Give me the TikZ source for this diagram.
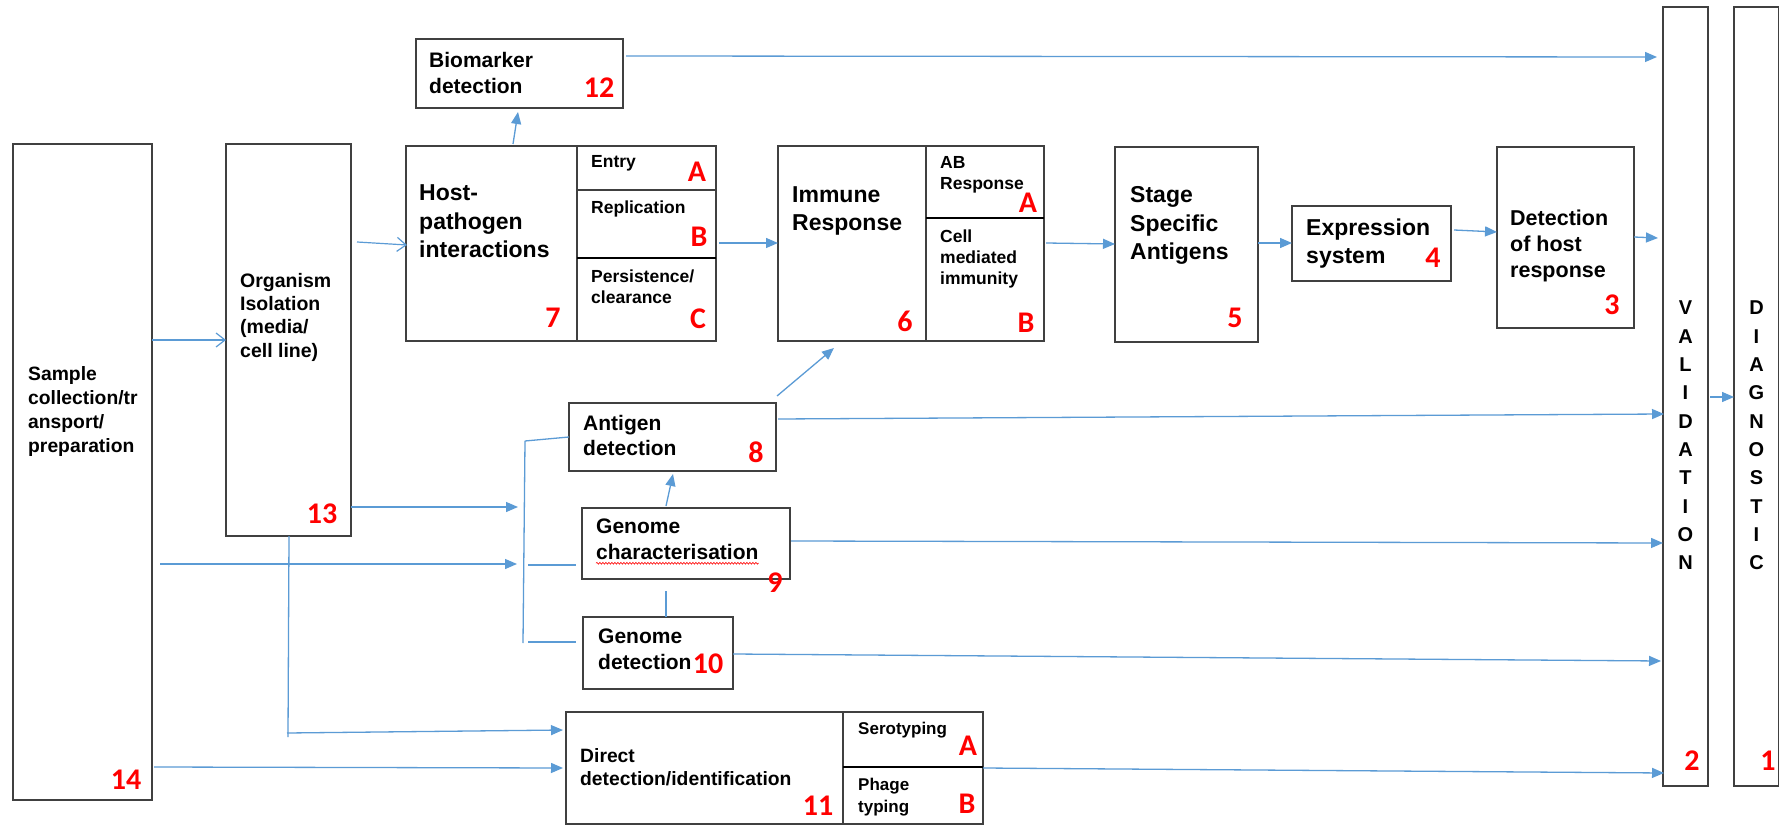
\documentclass[tikz,border=0pt]{standalone}
\usepackage{fontspec}
\setmainfont{Liberation Sans}
\newfontfamily\numfont{Carlito}
\usetikzlibrary{arrows.meta,calc,decorations.pathmorphing}
\definecolor{arrowblue}{HTML}{5B9BD5}
\definecolor{boxgray}{HTML}{404040}
\newcommand{\myfs}[2]{\fontsize{#1}{#2}\selectfont\bfseries}
\begin{document}
\begin{tikzpicture}[x=1pt,y=-1pt,
  box/.style={draw=boxgray, line width=1.4pt, fill=white, anchor=north west, inner sep=0pt, outer sep=0pt},
  divider/.style={draw=boxgray, line width=1.4pt},
  thickdiv/.style={draw=black, line width=2.6pt},
  lbl/.style={anchor=north west, align=left, inner sep=0pt, text=black},
  num/.style={text=red, inner sep=0pt, anchor=center, font={\numfont\bfseries\fontsize{30}{30}\selectfont}},
  arr/.style={draw=arrowblue, line width=1.3pt, -{Triangle[length=12pt,width=10pt]}},
  oarr/.style={draw=arrowblue, line width=1.2pt, -{Straight Barb[length=9pt,width=14pt]}},
  conn/.style={draw=arrowblue, line width=1.3pt}
]
\fill[white] (0,0) rectangle (1780,826);
\useasboundingbox (0,0) rectangle (1780,826);

% boxes
\node[box, minimum width=139pt, minimum height=656pt] (s14) at (13,144) {};
\node[box, minimum width=125pt, minimum height=392pt] (org) at (226,144) {};
\node[box, minimum width=310pt, minimum height=195pt] (h7) at (406,146) {};
\node[box, minimum width=207pt, minimum height=69pt] (b12) at (416,39) {};
\node[box, minimum width=266pt, minimum height=195pt] (i6) at (778,146) {};
\node[box, minimum width=143pt, minimum height=195pt] (st5) at (1115,147) {};
\node[box, minimum width=159pt, minimum height=75pt] (e4) at (1292,206) {};
\node[box, minimum width=137pt, minimum height=181pt] (d3) at (1497,147) {};
\node[box, minimum width=45pt, minimum height=779pt] (v2) at (1663,7) {};
\node[box, minimum width=44.5pt, minimum height=779pt] (dg1) at (1734,7) {};
\node[box, minimum width=207pt, minimum height=68pt] (a8) at (569,403) {};
\node[box, minimum width=208pt, minimum height=71pt] (g9) at (582,508) {};
\node[box, minimum width=150pt, minimum height=72pt] (gd10) at (583,617) {};
\node[box, minimum width=417pt, minimum height=112pt] (dd11) at (566,712) {};

% dividers
\draw[divider] ($(h7.north west)+(171,0)$) -- ($(h7.south west)+(171,0)$);
\draw[divider] ($(h7.north west)+(171,44)$) -- ($(h7.north east)+(0,44)$);
\draw[thickdiv] ($(h7.north west)+(171,112)$) -- ($(h7.north east)+(0,112)$);
\draw[divider] ($(i6.north west)+(148,0)$) -- ($(i6.south west)+(148,0)$);
\draw[thickdiv] ($(i6.north west)+(148,72)$) -- ($(i6.north east)+(0,72)$);
\draw[divider] ($(dd11.north west)+(277,0)$) -- ($(dd11.south west)+(277,0)$);
\draw[thickdiv] ($(dd11.north west)+(277,55)$) -- ($(dd11.north east)+(0,55)$);

% texts
\node[lbl, font={\myfs{21}{26}}] (tb12) at (429,52) {Biomarker\\detection};
\node[lbl, font={\myfs{23}{28.5}}] (th7) at (419,184.5) {Host-\\pathogen\\interactions};
\node[lbl, font={\myfs{17.5}{21}}] (thA) at (591,155.5) {Entry};
\node[lbl, font={\myfs{17.5}{21}}] (thB) at (591,200.5) {Replication};
\node[lbl, font={\myfs{17.5}{21}}] (thC) at (591,269.5) {Persistence/\\clearance};
\node[lbl, font={\myfs{23}{28}}] (ti6) at (792,186.5) {Immune\\Response};
\node[lbl, font={\myfs{17.5}{21}}] (tiA) at (940,156.5) {AB\\Response};
\node[lbl, font={\myfs{17.5}{21}}] (tiB) at (940,229.5) {Cell\\mediated\\immunity};
\node[lbl, font={\myfs{23}{28.5}}] (tst5) at (1130,186.5) {Stage\\Specific\\Antigens};
\node[lbl, font={\myfs{23}{28}}] (te4) at (1306,218.5) {Expression\\system};
\node[lbl, font={\myfs{21.5}{26}}] (td3) at (1510,210) {Detection\\of host\\response};
\node[lbl, font={\myfs{19.5}{23.3}}] (to13) at (240,272.8) {Organism\\Isolation\\(media/\\cell line)};
\node[lbl, font={\myfs{19.3}{24}}] (ts14) at (28,366) {Sample\\collection/tr\\ansport/\\preparation};
\node[lbl, font={\myfs{21}{25}}] (ta8) at (583,415) {Antigen\\detection};
\node[lbl, font={\myfs{21}{26}}] (tg9) at (596,519) {Genome\\characterisation};
\node[lbl, font={\myfs{21}{26}}] (tgd10) at (598,629) {Genome\\detection};
\node[lbl, font={\myfs{19.3}{23}}] (tdd11) at (580,748) {Direct\\detection/identification};
\node[lbl, font={\myfs{17}{22}}] (tddA) at (858,722) {Serotyping};
\node[lbl, font={\myfs{17}{22}}] (tddB) at (858,778) {Phage\\typing};
\node[anchor=north, align=center, inner sep=0pt, font={\myfs{20}{28.3}}] (tv2) at (1685.5,301) {V\\A\\L\\I\\D\\A\\T\\I\\O\\N};
\node[anchor=north, align=center, inner sep=0pt, font={\myfs{20}{28.3}}] (tdg1) at (1756.5,301) {D\\I\\A\\G\\N\\O\\S\\T\\I\\C};

% spell-check squiggle
\draw[red, line width=0.6pt, decorate, decoration={snake, amplitude=0.9pt, segment length=3pt}]
  ($(tg9.south west)+(0,3)$) -- ($(tg9.south east)+(0,3)$);

% red numbers
\node[num] (n12) at (599,88) {12};
\node[num] (n7) at (553,318) {7};
\node[num] (n7A) at (697,172) {A};
\node[num] (n7B) at (699,237) {B};
\node[num] (n7C) at (698,319) {C};
\node[num] (n6) at (905,321) {6};
\node[num] (n6A) at (1028,203) {A};
\node[num] (n6B) at (1026,323) {B};
\node[num] (n5) at (1235,318) {5};
\node[num] (n4) at (1433,258) {4};
\node[num] (n3) at (1612,305) {3};
\node[num] (n13) at (322,514) {13};
\node[num] (n14) at (126,780) {14};
\node[num] (n8) at (756,452) {8};
\node[num] (n9) at (775,583) {9};
\node[num] (n10) at (708,664) {10};
\node[num] (n11) at (818,806) {11};
\node[num] (n11A) at (968,746) {A};
\node[num] (n11B) at (967,804) {B};
\node[num] (n2) at (1692,761) {2};
\node[num] (n1) at (1768,761) {1};

% free-end coordinates
\coordinate (j1) at (518,507);
\coordinate (j2) at (517,564);
\coordinate (br1) at (525,441);
\coordinate (br2) at (523,643);
\coordinate (br3) at (528,565);
\coordinate (br4) at (528,642);
\coordinate (j3) at (288,737);
\coordinate (j4) at (287,733);

% connectors
\draw[arr] ($(h7.north west)+(107,-2)$) -- ($(b12.south west)+(102,4)$);
\draw[oarr] ($(org.north east)+(6,98)$) -- ($(h7.north west)+(1,99)$);
\draw[oarr] ($(s14.north east)+(0,196)$) -- ($(org.north west)+(0,196)$);
\draw[arr] ($(h7.north east)+(3,97)$) -- ($(i6.north west)+(0,97)$);
\draw[arr] ($(i6.north east)+(2,97)$) -- ($(st5.north west)+(0,97)$);
\draw[arr] ($(st5.north east)+(0,96)$) -- ($(e4.north west)+(0,37)$);
\draw[arr] ($(e4.north east)+(3,24)$) -- ($(d3.north west)+(0,85)$);
\draw[arr] ($(d3.north east)+(0,90)$) -- ($(v2.north west)+(-5,231)$);
\draw[arr] ($(b12.north east)+(3,17)$) -- ($(v2.north west)+(-6,50)$);
\draw[arr] ($(a8.north east)+(1,-7)$) -- ($(i6.south west)+(56,7)$);
\draw[arr] ($(a8.north east)+(2,16)$) -- ($(v2.north west)+(1,407)$);
\draw[arr] ($(org.south east)+(0,-29)$) -- (j1);
\draw[arr] ($(s14.north east)+(8,420)$) -- (j2);
\draw[conn] (br1) -- (br2);
\draw[conn] (br1) -- ($(a8.north west)+(0,34)$);
\draw[conn] (br3) -- ($(g9.north west)+(-6,57)$);
\draw[conn] (br4) -- ($(gd10.north west)+(-7,25)$);
\draw[arr] ($(g9.north west)+(84,-2)$) -- ($(a8.south west)+(104,3)$);
\draw[conn] ($(gd10.north west)+(83,0)$) -- ($(g9.south west)+(84,12)$);
\draw[arr] ($(g9.north east)+(1,33)$) -- ($(v2.north west)+(0,536)$);
\draw[arr] ($(gd10.north east)+(0,37)$) -- ($(v2.north west)+(-2,654)$);
\draw[arr] ($(dd11.north east)+(0,56)$) -- ($(v2.north west)+(1,766)$);
\draw[conn] ($(org.south west)+(63,0)$) -- (j3);
\draw[arr] (j4) -- ($(dd11.north west)+(-3,18)$);
\draw[arr] ($(s14.south east)+(2,-33)$) -- ($(dd11.north west)+(-3,56)$);
\draw[arr] ($(v2.north east)+(2,390)$) -- ($(dg1.north west)+(0,390)$);
\end{tikzpicture}
\end{document}
